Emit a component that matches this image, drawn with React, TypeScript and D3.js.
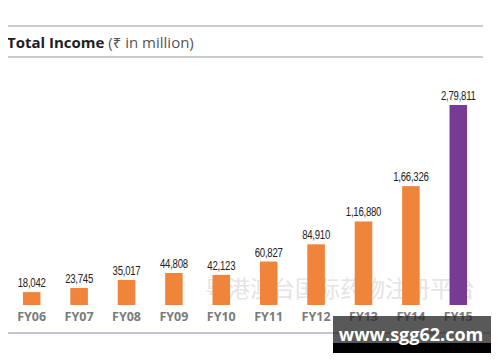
import { useEffect, useRef } from 'react';
import * as d3 from 'd3';

const years = ['FY06', 'FY07', 'FY08', 'FY09', 'FY10', 'FY11', 'FY12', 'FY13', 'FY14', 'FY15'];
const income = [18042, 23745, 35017, 44808, 42123, 60827, 84910, 116880, 166326, 279811];
const incomeLabels = ['18,042', '23,745', '35,017', '44,808', '42,123', '60,827', '84,910', '1,16,880', '1,66,326', '2,79,811'];

export default function App() {
  const svgRef = useRef<SVGSVGElement>(null);

  useEffect(() => {
    const svg = d3.select(svgRef.current);
    svg.selectAll('*').remove();

    const W = 500;
    const H = 362;
    svg.attr('width', W).attr('height', H);

    svg.append('rect').attr('width', W).attr('height', H).attr('fill', '#fff');

    // header rules
    [26, 57].forEach(y => {
      svg.append('line')
        .attr('x1', 7).attr('x2', 483)
        .attr('y1', y).attr('y2', y)
        .attr('stroke', '#9a9a9a')
        .attr('stroke-width', 1.2);
    });

    const title = svg.append('text')
      .attr('x', 7)
      .attr('y', 48)
      .attr('font-family', '"Open Sans", "Noto Sans", sans-serif')
      .attr('font-size', '15px');
    title.append('tspan').attr('font-weight', 'bold').attr('fill', '#1e1e1e').text('Total Income');
    title.append('tspan').attr('fill', '#555').text(' (₹ in million)');

    const baseline = 305;

    const x = d3.scaleBand<string>()
      .domain(years)
      .range([8, 482])
      .paddingInner(0.63)
      .paddingOuter(0.315);

    const y = d3.scaleLinear()
      .domain([0, d3.max(income) as number])
      .range([baseline, 105]);

    const data = years.map((yr, i) => ({ yr, v: income[i], label: incomeLabels[i] }));

    // watermark
    svg.append('text')
      .attr('x', 205)
      .attr('y', 297)
      .attr('font-family', '"Noto Sans CJK SC", sans-serif')
      .attr('font-size', '22.5px')
      .attr('fill', '#e4e4e4')
      .text('粤港澳台国际药物注册平台');

    svg.selectAll('.bar')
      .data(data)
      .join('rect')
      .attr('class', 'bar')
      .attr('x', d => x(d.yr) as number)
      .attr('y', d => y(d.v))
      .attr('width', x.bandwidth())
      .attr('height', d => baseline - y(d.v))
      .attr('fill', d => (d.yr === 'FY15' ? '#773b93' : '#f0843a'));

    // value labels, squeezed horizontally like a narrow face
    svg.selectAll('.val')
      .data(data)
      .join('text')
      .attr('class', 'val')
      .attr('transform', d => `translate(${(x(d.yr) as number) + x.bandwidth() / 2},${y(d.v) - 5}) scale(0.8,1)`)
      .attr('text-anchor', 'middle')
      .attr('font-family', '"Liberation Sans", "DejaVu Sans", sans-serif')
      .attr('font-size', '12px')
      .attr('letter-spacing', '-0.3px')
      .attr('fill', '#222')
      .text(d => d.label);

    svg.selectAll('.cat')
      .data(data)
      .join('text')
      .attr('class', 'cat')
      .attr('x', d => (x(d.yr) as number) + x.bandwidth() / 2)
      .attr('y', 321)
      .attr('text-anchor', 'middle')
      .attr('font-family', '"Open Sans", "Noto Sans", sans-serif')
      .attr('font-weight', 'bold')
      .attr('font-size', '12.5px')
      .attr('fill', '#7b7b7b')
      .text(d => d.yr);

    // bottom rule
    svg.append('line')
      .attr('x1', 7).attr('x2', 490)
      .attr('y1', 333).attr('y2', 333)
      .attr('stroke', '#b8adc4')
      .attr('stroke-width', 1.5);

    // site stamp
    svg.append('rect')
      .attr('x', 333).attr('y', 316)
      .attr('width', 158).attr('height', 27)
      .attr('fill', '#2a2a2a')
      .attr('opacity', 0.78);
    svg.append('rect')
      .attr('x', 333).attr('y', 343)
      .attr('width', 158).attr('height', 10)
      .attr('fill', '#000');
    svg.append('text')
      .attr('x', 411)
      .attr('y', 341)
      .attr('text-anchor', 'middle')
      .attr('font-family', '"Open Sans", "Noto Sans", sans-serif')
      .attr('font-weight', 'bold')
      .attr('font-size', '18px')
      .attr('fill', '#fff')
      .text('www.sgg62.com');
  }, []);

  return (
    <div style={{ margin: -8 }}>
      <svg ref={svgRef} style={{ display: 'block' }}></svg>
    </div>
  );
}
